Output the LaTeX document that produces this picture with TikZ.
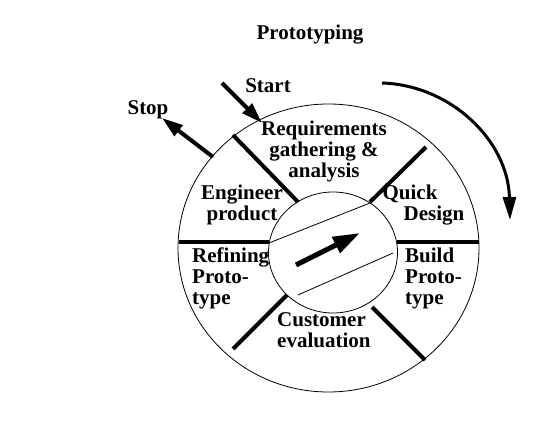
\documentclass[tikz,border=0pt]{standalone}
\usepackage{fontspec}
\setmainfont{Liberation Serif}
\usetikzlibrary{arrows.meta}

\tikzset{
  lbl/.style={font=\bfseries\fontsize{21}{21}\selectfont, inner sep=0pt},
  divider/.style={line width=4pt},
  rim/.style={line width=0.8pt},
  fat arrow/.style={line width=4pt, -{Triangle[length=21pt,width=13pt]}},
}

\begin{document}
\begin{tikzpicture}[x=1pt,y=-1pt]
\useasboundingbox (0,0) rectangle (538,435);

% title
\node[lbl, anchor=base] (title) at (310,40) {Prototyping};

% wheel
\coordinate (outer) at (328.5,248);
\coordinate (hub) at (333,252.5);
\draw[rim] (outer) ellipse [x radius=150.5, y radius=144];
\draw[rim] (hub) ellipse [x radius=64.5, y radius=60.5];

% dividers between the phases
\draw[divider] (179,242) -- (269,242);
\draw[divider] (397,242) -- (479,242);
\draw[divider] (233,135) -- (298,202);
\draw[divider] (370,202) -- (426,147);
\draw[divider] (287,295) -- (233,349);
\draw[divider] (372,307) -- (425,360);

% hub
\draw[rim] (269,243) -- (370,203);
\draw[rim] (298,295) -- (393,253);
\coordinate (needle tail) at (296,265);
\coordinate (needle tip) at (360,233);
\draw[line width=5pt, -{Triangle[length=27pt,width=17pt]}] (needle tail) -- (needle tip);

% start and stop
\node[lbl, anchor=base] (start) at (268,93) {Start};
\node[lbl, anchor=base] (stop) at (148,115) {Stop};
\coordinate (start tail) at (222,83);
\coordinate (start tip) at (262,123);
\coordinate (stop tail) at (213,157);
\coordinate (stop tip) at (162,118);
\draw[fat arrow] (start tail) -- (start tip);
\draw[fat arrow] (stop tail) -- (stop tip);

% direction of the cycle
\coordinate (cycle from) at (382,83);
\coordinate (cycle to) at (510,220);
\draw[line width=3pt, -{Triangle[length=23pt,width=13pt]}]
  (cycle from) .. controls (450,85) and (508,140) .. (cycle to);

% phases (base = last line)
\node[lbl, align=center, anchor=base] (req) at (324,178) {Requirements\\gathering \&\\analysis};
\node[lbl, align=center, anchor=base] (eng) at (242,221) {Engineer\\product};
\node[lbl, anchor=base] (quick) at (410,200) {Quick};
\node[lbl, anchor=base] (design) at (434,221) {Design};
\node[lbl, align=left, anchor=base west] (build) at (405,305) {Build\\Proto-\\type};
\node[lbl, align=left, anchor=base west] (refine) at (192,305) {Refining\\Proto-\\type};
\node[lbl, align=left, anchor=base west] (cust) at (277,348) {Customer\\evaluation};

\end{tikzpicture}
\end{document}
